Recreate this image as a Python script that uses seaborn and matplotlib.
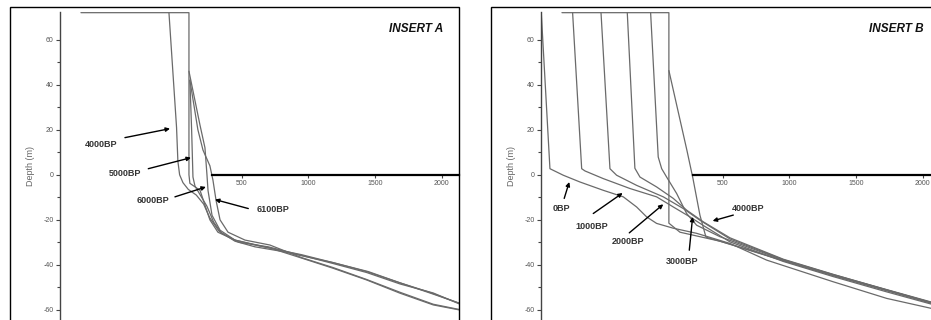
import numpy as np
import pandas as pd
import matplotlib
matplotlib.use("Agg")
import matplotlib.pyplot as plt
from matplotlib.patches import Rectangle
import seaborn as sns

sns.set_style("white")
plt.rcParams["font.family"] = ["Liberation Sans", "DejaVu Sans"]
plt.rcParams["axes.unicode_minus"] = False

# ---- Insert A : shoreline profiles (distance m, depth m) ----
A_4000_x = [-45, 12, 22, 35, 60, 100, 160, 215, 260, 330, 450, 600, 800, 1185, 1450, 1688, 1900, 2130]
A_4000_y = [72, 21, 6, 0, -3.5, -6.5, -9, -13, -19, -25, -29.5, -32, -34, -39, -43, -48, -52, -57]
A_5000_x = [-705, 105, 105, 112, 188, 225, 262, 322, 450, 712, 950, 1185, 1437, 1688, 1937, 2130]
A_5000_y = [72, 72, 0, -3.8, -6.9, -13.5, -20, -25.5, -29, -32.5, -37, -41.5, -46.7, -52.6, -57.8, -60]
A_5500_x = [112, 125, 135, 150, 190, 240, 290, 350, 480, 700, 950, 1185, 1437, 1688, 1937, 2130]
A_5500_y = [42, 20, -1, -5, -9, -14, -21, -26, -30, -32, -35.8, -39.4, -43.4, -48.5, -52.5, -57.3]
A_6000_x = [105, 188, 225, 232, 240, 248, 278, 338, 450, 638, 950, 1185, 1437, 1688, 1937, 2130]
A_6000_y = [46, 22, 12, 6.4, 0, -7, -18, -24.6, -29, -31.7, -35.5, -39, -43, -48, -53, -57]
A_6100_x = [112, 172, 210, 262, 285, 308, 338, 398, 525, 712, 950, 1185, 1437, 1688, 1937, 2130]
A_6100_y = [42, 20, 11, 4, -2.4, -11.3, -20, -25.5, -29, -31.2, -36.8, -41.2, -46.5, -52.2, -57.5, -59.8]

# ---- Insert B ----
B_0_x = [-860, -795, -695, -570, -395, -245, -145, -70, 5, 128, 305, 555, 830, 1328, 1730, 2130]
B_0_y = [72, 2.7, -0.2, -3.2, -6.9, -9.8, -14.3, -18.7, -21.6, -23.7, -26, -30.5, -37.9, -47.5, -54.9, -60.2]
B_1000_x = [-625, -557, -532, -395, -195, 5, 130, 255, 352, 555, 955, 1328, 1730, 2130]
B_1000_y = [72, 2.7, 1.7, -1.7, -6.1, -9.8, -14.3, -18.7, -22.4, -29.8, -38.5, -45.2, -52, -58.5]
B_2000_x = [-412, -345, -295, -145, 55, 205, 330, 555, 955, 1328, 1730, 2130]
B_2000_y = [72, 2.7, -0.2, -4.7, -9.8, -15, -20.2, -28.5, -37.7, -44.3, -51, -57.6]
B_3000_x = [-215, -158, -120, 5, 130, 230, 355, 555, 955, 1328, 1730, 2130]
B_3000_y = [72, 2.9, -1, -5.4, -10.5, -15.7, -20.9, -28, -37.5, -44.2, -51.1, -57.8]
B_3500_x = [-40, 17, 43, 80, 155, 230, 305, 480, 955, 1328, 1730, 2130]
B_3500_y = [72, 7.9, 2.7, -1, -8.3, -17.2, -22.4, -27.5, -37.9, -44.5, -51.2, -57.9]
B_wall_x = [-705, 97, 97, 180, 480, 955, 1328, 1730, 2130]
B_wall_y = [72, 72, -21.5, -25.5, -29.5, -38.2, -44.8, -51.5, -58.1]
B_4000_x = [97, 232, 277, 330, 375, 555, 955, 1328, 1730, 2130]
B_4000_y = [46.3, 10.9, -1.5, -18, -27.7, -30.8, -38, -44.6, -51.3, -58]

# labels: (text, text x, text y, arrow tail x, tail y, head x, head y)
A_labels = [("4000BP", -555, 13.4, -375, 16.5, -37, 20.5),
            ("5000BP", -375, 0.5, -200, 2.7, 120, 7.6),
            ("6000BP", -167, -11.3, 0, -9.8, 232, -5.4),
            ("6100BP", 733, -15.3, 550, -15, 300, -11)]
B_labels = [("0BP", -707, -15, -688, -10.5, -650, -3.2),
            ("1000BP", -478, -22.8, -470, -17.2, -250, -8.1),
            ("2000BP", -212, -29.8, -200, -25.8, 55, -13.1),
            ("3000BP", 197, -38.6, 250, -33.5, 275, -18.7),
            ("4000BP", 688, -15, 580, -17.9, 425, -20.5)]


def to_long(series):
    rows = []
    for name, xs, ys in series:
        for i, (x, y) in enumerate(zip(xs, ys)):
            rows.append({"profile": name, "order": i, "dist": x, "depth": y})
    return pd.DataFrame(rows)


df_a = to_long([("4000", A_4000_x, A_4000_y), ("5000", A_5000_x, A_5000_y),
                ("5500", A_5500_x, A_5500_y), ("6000", A_6000_x, A_6000_y),
                ("6100", A_6100_x, A_6100_y)])
df_b = to_long([("0", B_0_x, B_0_y), ("1000", B_1000_x, B_1000_y),
                ("2000", B_2000_x, B_2000_y), ("3000", B_3000_x, B_3000_y),
                ("3500", B_3500_x, B_3500_y), ("wall", B_wall_x, B_wall_y),
                ("4000", B_4000_x, B_4000_y)])

W, H = 931, 320
fig = plt.figure(figsize=(W / 100, H / 100), dpi=100)
ax_w = 399 / W
axes = [fig.add_axes([60 / W, 0, ax_w, 308 / H]),
        fig.add_axes([541 / W, 0, ax_w, 308 / H])]

# panel frames
fig.patches.append(Rectangle((9.5 / W, -0.1), 449.5 / W, 1.1 - 7 / H, transform=fig.transFigure,
                             fill=False, edgecolor="black", lw=1, zorder=0))
fig.patches.append(Rectangle((490.5 / W, -0.1), 0.6, 1.1 - 7 / H, transform=fig.transFigure,
                             fill=False, edgecolor="black", lw=1, zorder=0))

for ax, df, labels, title in [(axes[0], df_a, A_labels, "INSERT A"),
                              (axes[1], df_b, B_labels, "INSERT B")]:
    ax.set_facecolor("none")
    sns.lineplot(data=df, x="dist", y="depth", units="profile", estimator=None,
                 sort=False, color="#6a6a6a", lw=0.9, ax=ax, legend=False)
    ax.set_xlim(-862, 2130)
    ax.set_ylim(-64.5, 72.3)
    for s in ["top", "right"]:
        ax.spines[s].set_visible(False)
    ax.spines["left"].set_color("#444444")
    ax.spines["left"].set_linewidth(1)
    ax.spines["bottom"].set_position(("data", 0))
    ax.spines["bottom"].set_bounds(275, 2130)
    ax.spines["bottom"].set_color("black")
    ax.spines["bottom"].set_linewidth(1.6)
    ax.set_xticks([500, 1000, 1500, 2000])
    ax.set_yticks([60, 40, 20, 0, -20, -40, -60])
    ax.set_yticks(np.arange(-50, 60, 20), minor=True)
    ax.tick_params(axis="y", which="major", direction="out", length=3, width=0.8,
                   color="#444444", labelsize=5, labelcolor="#555555", pad=1.5, left=True)
    ax.tick_params(axis="y", which="minor", direction="out", length=2, width=0.8,
                   color="#444444", left=True)
    ax.tick_params(axis="x", direction="out", length=2, width=0.8, color="#444444",
                   labelsize=5, labelcolor="#555555", pad=2, bottom=True)
    ax.set_xlabel("")
    ax.set_ylabel("Depth (m)", fontsize=6.5, color="#666666", labelpad=6)
    ax.text(0.96, 0.945, title, transform=ax.transAxes, ha="right", va="center",
            fontsize=8.5, fontweight="bold", fontstyle="italic", color="#111111")
    for txt, tx, ty, ax0, ay0, hx, hy in labels:
        ax.text(tx, ty, txt, ha="center", va="center", fontsize=6.5,
                fontweight="bold", color="#333333", zorder=5)
        ax.annotate("", xy=(hx, hy), xytext=(ax0, ay0),
                    arrowprops=dict(arrowstyle="-|>", color="black", lw=1,
                                    mutation_scale=6, shrinkA=0, shrinkB=0), zorder=5)

fig.savefig("out.png", dpi=100)
